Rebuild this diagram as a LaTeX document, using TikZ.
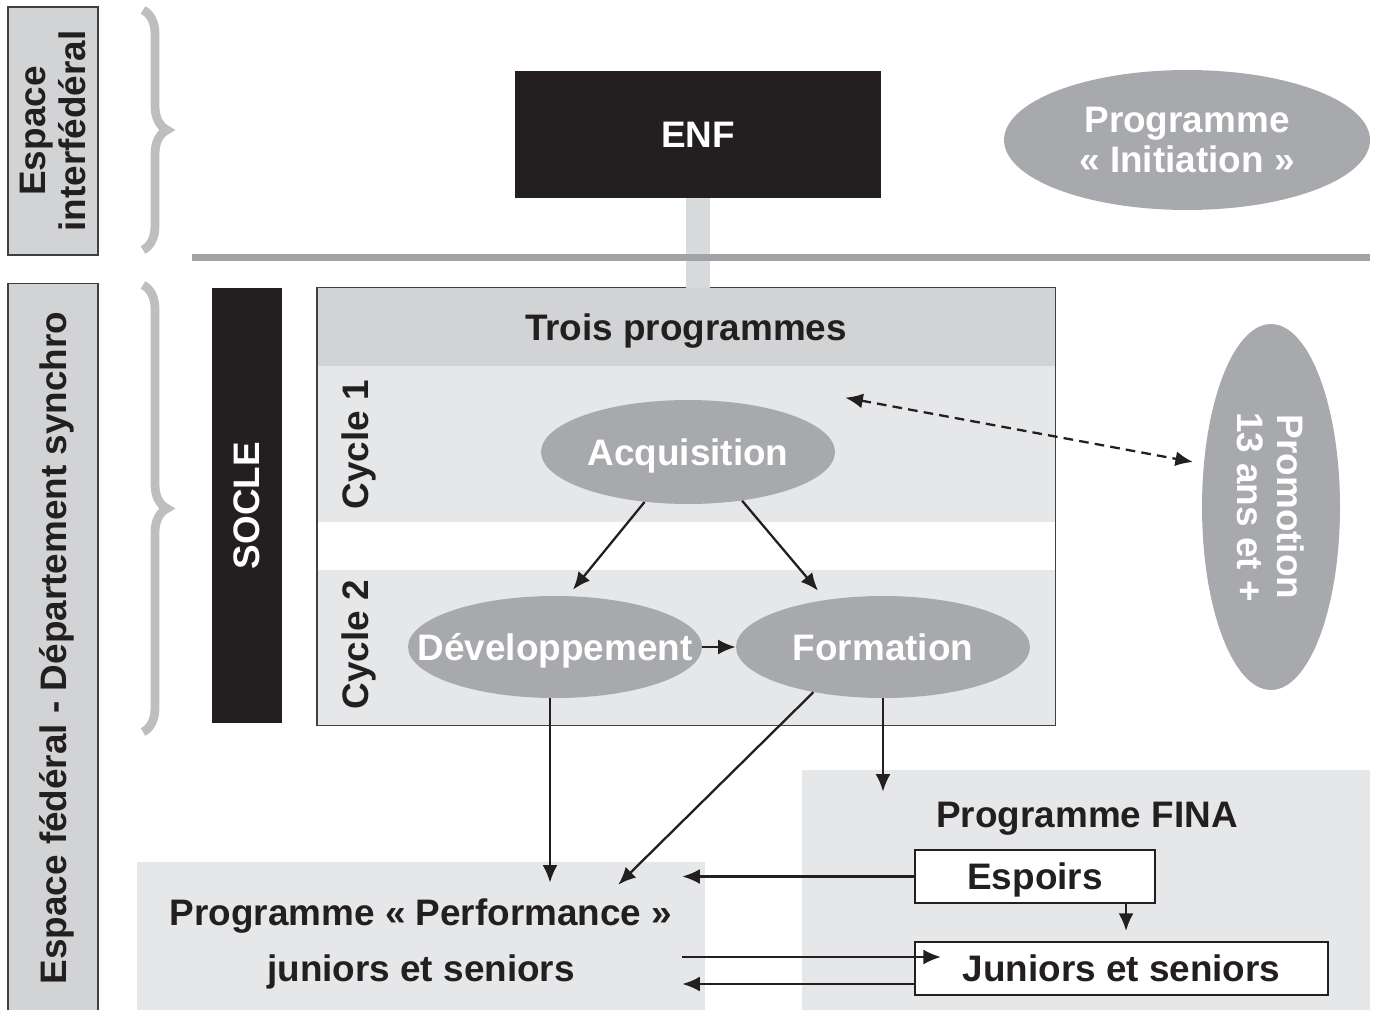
\documentclass[tikz,border=0pt]{standalone}
\usepackage{fontspec}
\setmainfont{Liberation Sans}
\usetikzlibrary{shapes.geometric,decorations.pathreplacing,calc,arrows.meta}
\tikzset{>={Latex[length=10pt,width=8.5pt]}}
\definecolor{nearblack}{HTML}{231F20}
\definecolor{ovalgray}{HTML}{A7A9AC}
\definecolor{bandgray}{HTML}{E6E7E8}
\definecolor{headgray}{HTML}{D1D3D4}
\definecolor{bracegray}{HTML}{BCBEC0}
\definecolor{bargray}{HTML}{D9DADB}
\definecolor{rulegray}{HTML}{A1A3A6}
\definecolor{framegray}{HTML}{404041}
\tikzstyle{every node}=[font=\bfseries\fontsize{21}{23}\selectfont,text=nearblack,text depth=0pt]
\tikzstyle{sidebox}=[fill=headgray,draw=framegray,line width=0.6pt,rotate=90,minimum height=1.8cm,align=center]
\tikzstyle{blackbox}=[fill=nearblack,text=white,inner sep=0pt]
\tikzstyle{oval}=[ellipse,fill=ovalgray,text=white,inner sep=0pt,align=center]
\tikzstyle{band}=[fill=bandgray,minimum width=14.76cm,inner sep=0pt]
\tikzstyle{whitebox}=[fill=white,draw=nearblack,line width=1.2pt,minimum height=1.06cm,inner sep=0pt]
\tikzstyle{link}=[->,line width=1.3pt,draw=nearblack]
\tikzstyle{curly}=[decorate,decoration={brace,amplitude=0.48cm,aspect=0.5},draw=bracegray,line width=5pt]

\begin{document}
\begin{tikzpicture}[x=0.02cm,y=-0.02cm]
\useasboundingbox (0,0) rectangle (1375,1010);
\begin{scope}
\clip (0,0) rectangle (1375,1010);
% left labels and braces
\node (espint) at (53,131) [sidebox,minimum width=4.96cm]{Espace\\interfédéral};
\node (espfed) at (53,648) [sidebox,minimum width=14.6cm]{Espace fédéral - Département synchro};
\draw [curly] (143,10) -- (143,250);
\draw [curly] (143,285) -- (143,732);
\node (socle) at (247,505.5) [blackbox,rotate=90,minimum width=8.7cm,minimum height=1.4cm]{SOCLE};

% top
\node (enf) at (698,134.5) [blackbox,minimum width=7.32cm,minimum height=2.54cm]{ENF};
\node (init) at (1187,140) [oval,minimum width=7.32cm,minimum height=2.8cm]{Programme\\« Initiation »};

% three programmes
\node (head) at (686,327) [fill=headgray,minimum width=14.76cm,minimum height=1.56cm,inner sep=0pt]{Trois programmes};
\node (cyc1) at (686,444) [band,minimum height=3.12cm]{};
\node (cyc2) at (686,647.5) [band,minimum height=3.1cm]{};
\draw [framegray,line width=0.9pt] (head.north west) rectangle (cyc2.south east);
\node (lab1) at (355,445) [rotate=90]{Cycle 1};
\node (lab2) at (355,645) [rotate=90]{Cycle 2};
\draw [bargray,line width=0.48cm] (enf.south) -- (enf.south |- head.north);
\draw [rulegray,line width=0.16cm] (192,257.5) -- (1370,257.5);

\node (acq) at (688,452) [oval,minimum width=5.88cm,minimum height=2.08cm]{Acquisition};
\node (dev) at (555,647) [oval,minimum width=5.88cm,minimum height=2.04cm]{\makebox[0pt]{Développement}};
\node (form) at (883,647) [oval,minimum width=5.88cm,minimum height=2.04cm]{Formation};
\node (promo) at (1271,507) [oval,rotate=-90,minimum width=7.32cm,minimum height=2.76cm]{Promotion\\13 ans et +};

% bottom programmes
\node (perf) at (421,940.5) [fill=bandgray,minimum width=11.36cm,minimum height=3.14cm,align=center,inner sep=0pt,font=\bfseries\fontsize{21}{32}\selectfont]{Programme « Performance »\\juniors et seniors};
\node (fina) at (1086,891.5) [fill=bandgray,minimum width=11.36cm,minimum height=4.86cm,inner sep=0pt]{};
\node (finatitle) at (1087,815) {Programme FINA};
\node (espoirs) at (1035,876.5) [whitebox,minimum width=4.8cm]{Espoirs};
\node (juniors) at (1121.5,968.5) [whitebox,minimum width=8.26cm]{Juniors et seniors};

% arrows
\draw [link] (acq.229) -- ($(dev.north)+(18,-6)$);
\draw [link] (acq.318) -- ($(form.north)+(-65,-5)$);
\draw [link] (dev) -- (form);
\draw [link] ($(dev.south)+(-5,0)$) -- ($(dev.south |- perf.north)+(-5,21)$);
\draw [link] (form.213) -- ($(perf.north east)+(-87,23)$);
\draw [link] (form.south) -- ($(form.south |- fina.north)+(0,22)$);
\draw [link] (espoirs.west) -- ($(espoirs.west -| perf.east)+(-23,0)$);
\coordinate (espdown) at ($(espoirs.south east)+(-30,0)$);
\draw [link] (espdown) -- ($(espdown |- juniors.north)+(0,-10)$);
\draw [link] ($(juniors.west -| perf.east)+(-23,-11.5)$) -- ($(juniors.west)+(27,-11.5)$);
\draw [link] ($(juniors.west)+(0,15.5)$) -- ($(juniors.west -| perf.east)+(-23,15.5)$);
\draw [link,<->,dash pattern=on 5.5pt off 3.5pt] ($(cyc1.north east)+(-210,32)$) -- ($(promo.center)+(-78,-45)$);
\end{scope}
\end{tikzpicture}
\end{document}
